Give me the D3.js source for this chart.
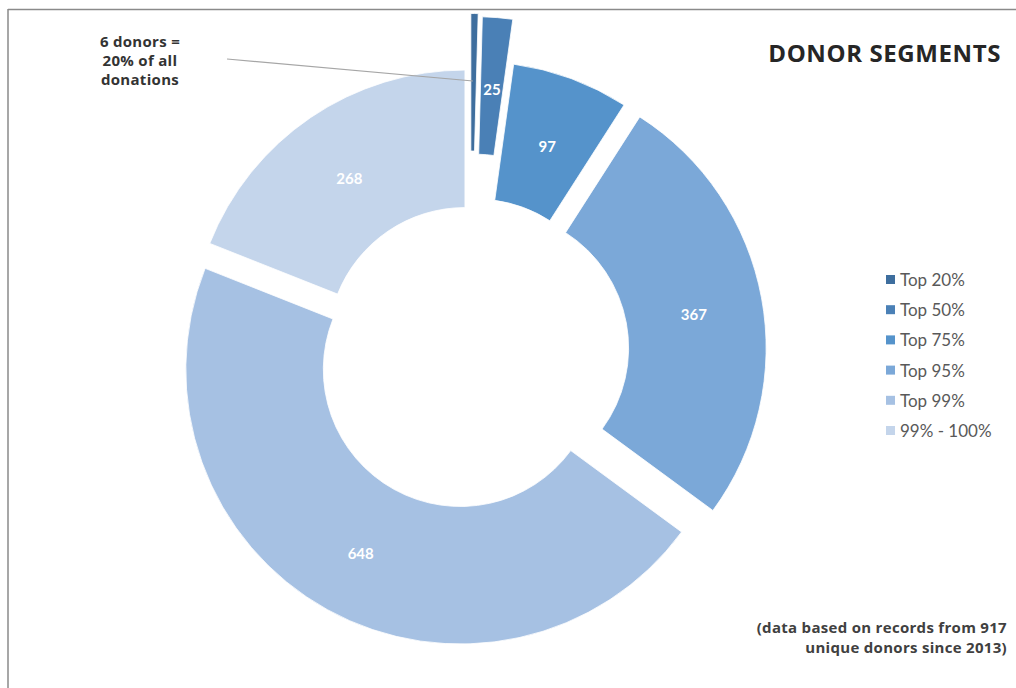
<!DOCTYPE html>
<html>
<head>
<meta charset="utf-8">
<script src="https://cdn.jsdelivr.net/npm/d3@7"></script>
<style>
  html, body { margin: 0; padding: 0; background: #fff; }
  svg { display: block; }
</style>
</head>
<body>
<svg id="chart" width="1016" height="688"></svg>
<script>
// ---- data ----
const categories = ["Top 20%", "Top 50%", "Top 75%", "Top 95%", "Top 99%", "99% - 100%"];
const values = [6, 25, 97, 367, 648, 268];
const showLabel = [false, true, true, true, true, true];
const colors = ["#3E6E9E", "#4A80B6", "#5593CB", "#7BA8D8", "#A6C1E3", "#C4D5EB"];
const explode = [64, 61, 17, 22, 20, 9];
const annotationLines = ["6 donors =", "20% of all", "donations"];
const footnoteLines = ["(data based on records from 917", "unique donors since 2013)"];
const title = "DONOR SEGMENTS";

// ---- layout ----
const svg = d3.select("#chart");
const cx = 470, cy = 352;
const outerR = 274.5, innerR = 137;

// frame (top and left border lines)
svg.append("line").attr("x1", 8).attr("y1", 9.5).attr("x2", 1016).attr("y2", 9.5)
  .attr("stroke", "#8a8a8a").attr("stroke-width", 1.5);
svg.append("line").attr("x1", 8).attr("y1", 9).attr("x2", 8).attr("y2", 688)
  .attr("stroke", "#8a8a8a").attr("stroke-width", 1.5);

const pie = d3.pie().sort(null).value(d => d).startAngle(0).endAngle(2 * Math.PI);
const arcs = pie(values);
const arc = d3.arc().innerRadius(innerR).outerRadius(outerR);

const g = svg.append("g").attr("transform", `translate(${cx},${cy})`);

function offset(d, i) {
  const mid = (d.startAngle + d.endAngle) / 2;
  return [explode[i] * Math.sin(mid), -explode[i] * Math.cos(mid)];
}

const slices = g.selectAll("g.slice").data(arcs).enter().append("g")
  .attr("class", "slice")
  .attr("transform", (d, i) => { const o = offset(d, i); return `translate(${o[0]},${o[1]})`; });

slices.append("path")
  .attr("d", arc)
  .attr("fill", (d, i) => colors[i])
  .attr("stroke", "#ffffff")
  .attr("stroke-width", 0.8);

slices.filter((d, i) => showLabel[i]).append("text")
  .attr("x", d => arc.centroid(d)[0])
  .attr("y", d => arc.centroid(d)[1] + 4)
  .attr("dy", "0.35em")
  .attr("text-anchor", "middle")
  .attr("font-family", "Lato, 'Open Sans', sans-serif")
  .attr("font-weight", "bold")
  .attr("font-size", 15)
  .attr("fill", "#ffffff")
  .text(d => d.data);

// annotation callout for the smallest slice
const a0 = arcs[0];
const o0 = offset(a0, 0);
svg.append("line")
  .attr("x1", 227).attr("y1", 59)
  .attr("x2", cx + o0[0] + 2).attr("y2", cy + o0[1] - 207)
  .attr("stroke", "#a6a6a6").attr("stroke-width", 1.2);

const ann = svg.append("text")
  .attr("text-anchor", "middle")
  .attr("font-family", "'Open Sans', sans-serif")
  .attr("font-weight", "bold")
  .attr("font-size", 15)
  .attr("letter-spacing", 0.3)
  .attr("fill", "#333333");
annotationLines.forEach((t, i) => {
  ann.append("tspan").attr("x", 140).attr("y", 47 + i * 19).text(t);
});

// title
svg.append("text")
  .attr("x", 1001).attr("y", 62)
  .attr("text-anchor", "end")
  .attr("font-family", "'Open Sans', sans-serif")
  .attr("font-weight", "bold")
  .attr("font-size", 24)
  .attr("letter-spacing", 0.6)
  .attr("fill", "#262626")
  .text(title);

// legend
const legend = svg.append("g").attr("transform", "translate(886,280)");
const rows = legend.selectAll("g").data(categories).enter().append("g")
  .attr("transform", (d, i) => `translate(0,${i * 30.2})`);
rows.append("rect").attr("x", 0).attr("y", -5).attr("width", 9).attr("height", 9)
  .attr("fill", (d, i) => colors[i]);
rows.append("text").attr("x", 14).attr("y", 0).attr("dy", "0.35em")
  .attr("font-family", "Lato, 'Open Sans', sans-serif")
  .attr("font-size", 17)
  .attr("fill", "#595959")
  .text(d => d);

// footnote
const foot = svg.append("text")
  .attr("text-anchor", "end")
  .attr("font-family", "'Open Sans', sans-serif")
  .attr("font-weight", "bold")
  .attr("font-size", 15)
  .attr("letter-spacing", 0.3)
  .attr("fill", "#404040");
footnoteLines.forEach((t, i) => {
  foot.append("tspan").attr("x", 1007).attr("y", 633 + i * 20).text(t);
});
</script>
</body>
</html>
